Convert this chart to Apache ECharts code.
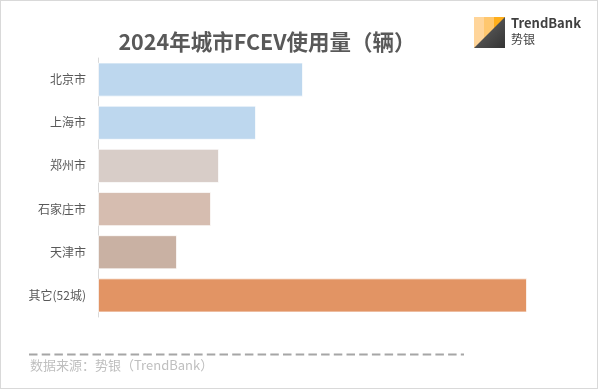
<!DOCTYPE html>
<html>
<head>
<meta charset="utf-8">
<style>
html,body{margin:0;padding:0;background:#fff;}
#c{width:598px;height:389px;box-sizing:border-box;border:1px solid #d9d9d9;}
</style>
<script src="https://cdn.jsdelivr.net/npm/echarts@6/dist/echarts.min.js"></script>
</head>
<body>
<div id="c"></div>
<script>
const categories = ['北京市', '上海市', '郑州市', '石家庄市', '天津市', '其它(52城)'];
const values = [205, 158, 121, 113, 79, 429];
const barColors = ['#BDD7EE', '#BDD7EE', '#D8CDC8', '#D6BDB0', '#C9B1A3', '#E29464'];
const titleText = '2024年城市FCEV使用量（辆）';
const sourceText = '数据来源：势银（TrendBank）';

const chart = echarts.init(document.getElementById('c'));
const font = '"Noto Sans CJK SC", "Noto Sans", sans-serif';
chart.setOption({
  animation: false,
  title: {
    text: titleText,
    left: 261, top: 25, textAlign: 'center',
    textStyle: { fontFamily: font, fontSize: 21.5, fontWeight: 'bold', color: '#595959' }
  },
  grid: { left: 97, top: 57, right: 70, bottom: 71, containLabel: false },
  xAxis: {
    type: 'value', min: 0, max: 429,
    show: false
  },
  yAxis: {
    type: 'category', data: categories, inverse: true,
    axisLine: { show: true, lineStyle: { color: '#d9d9d9', width: 1 } },
    axisTick: { show: false },
    axisLabel: { margin: 12, fontFamily: font, fontSize: 12, color: '#595959' }
  },
  series: [{
    type: 'bar',
    data: values.map((v, i) => ({ value: v, itemStyle: { color: barColors[i] } })),
    barCategoryGap: '21%',
    itemStyle: { borderColor: 'rgba(255,255,255,0.7)', borderWidth: 1 }
  }],
  graphic: [
    { type: 'rect', shape: { x: 473, y: 16, width: 31, height: 31 },
      style: { fill: new echarts.graphic.LinearGradient(0, 0, 1, 0, [
        { offset: 0, color: '#FFD59A' }, { offset: 0.33, color: '#FFD59A' },
        { offset: 0.33, color: '#FFC76E' }, { offset: 0.66, color: '#FFC76E' },
        { offset: 0.66, color: '#FFAE1A' }, { offset: 1, color: '#FFAE1A' }]) } },
    { type: 'polygon', shape: { points: [[504, 16], [504, 47], [473, 47]] },
      style: { fill: new echarts.graphic.LinearGradient(0, 0, 1, 1, [
        { offset: 0, color: '#6a6a6a' }, { offset: 1, color: '#333333' }]) } },
    { type: 'text', left: 510, top: 16,
      style: { text: 'TrendBank', fontFamily: font, fontSize: 13, fontWeight: 'bold', fill: '#3f3f3f' } },
    { type: 'text', left: 510, top: 32,
      style: { text: '势银', fontFamily: font, fontSize: 12, fill: '#3f3f3f' } },
    { type: 'line', shape: { x1: 28, y1: 353.5, x2: 463, y2: 353.5 },
      style: { stroke: '#a6a6a6', lineWidth: 2, lineDash: [8.5, 4.2] } },
    { type: 'text', left: 29, top: 358,
      style: { text: sourceText, fontFamily: font, fontSize: 13, fill: '#bfbfbf' } }
  ]
});
</script>
</body>
</html>
